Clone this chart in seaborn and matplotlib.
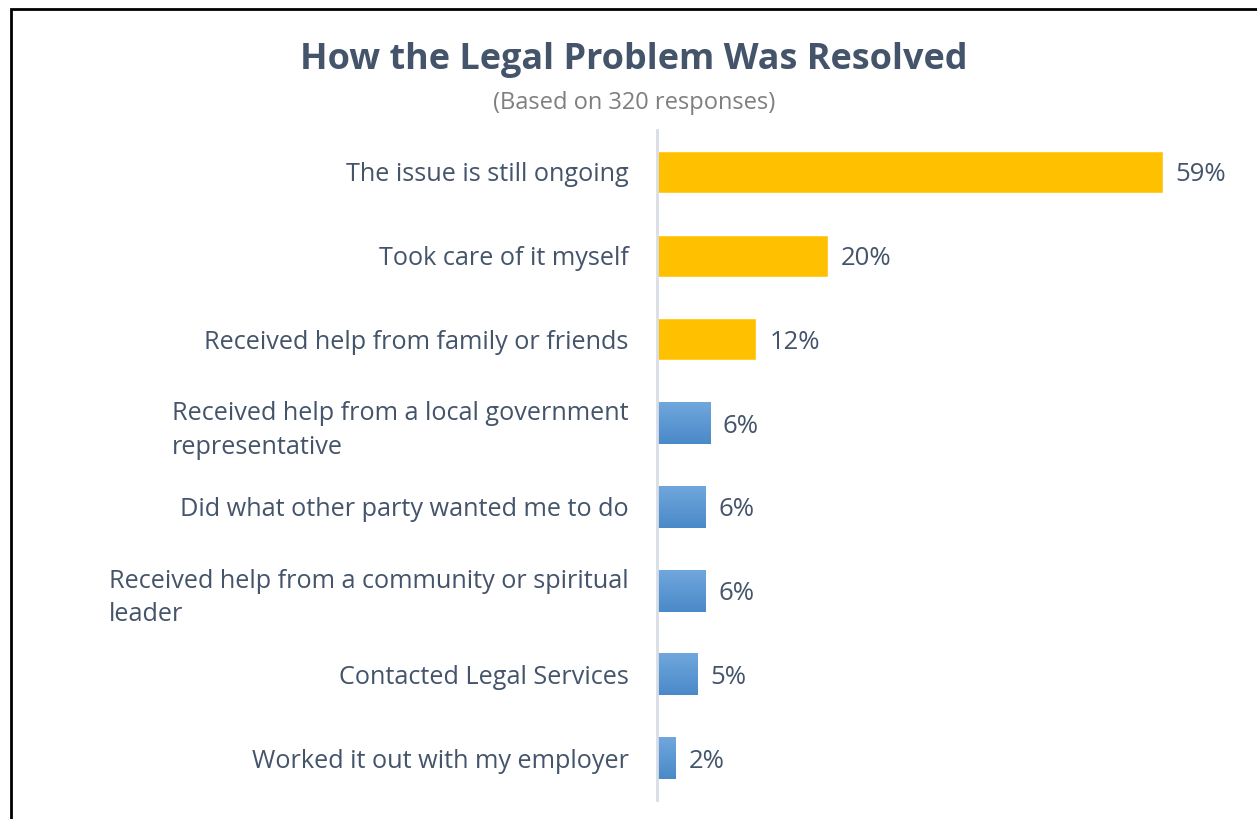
import numpy as np
import pandas as pd
import matplotlib
matplotlib.use("Agg")
import matplotlib.pyplot as plt
import seaborn as sns
from matplotlib.patches import Rectangle

categories = [
    "The issue is still ongoing",
    "Took care of it myself",
    "Received help from family or friends",
    "Received help from a local government\nrepresentative",
    "Did what other party wanted me to do",
    "Received help from a community or spiritual\nleader",
    "Contacted Legal Services",
    "Worked it out with my employer",
]
values = [59.0, 19.9, 11.6, 6.2, 5.7, 5.7, 4.7, 2.2]
labels = ["59%", "20%", "12%", "6%", "6%", "6%", "5%", "2%"]
groups = ["top", "top", "top", "other", "other", "other", "other", "other"]

title = "How the Legal Problem Was Resolved"
subtitle = "(Based on 320 responses)"

TEXT = "#44546A"
FONT = "Open Sans"

sns.set_theme(style="white")
plt.rcParams["font.family"] = [FONT, "DejaVu Sans"]

df = pd.DataFrame({"category": categories, "value": values, "group": groups})

fig = plt.figure(figsize=(12.57, 8.19), dpi=100)
ax = fig.add_axes([657 / 1257, 1 - 800 / 819, 1 - 657 / 1257, (800 - 130) / 819])

sns.barplot(data=df, y="category", x="value", hue="group",
            palette={"top": "#FFC000", "other": "#5B9BD5"},
            dodge=False, width=0.5, orient="h", legend=False, ax=ax,
            saturation=1)

# gradient for blue bars
grad = np.linspace(0, 1, 256).reshape(-1, 1)
cmap = matplotlib.colors.LinearSegmentedColormap.from_list("g", ["#70A7DD", "#4A89C8"])
for p in ax.patches:
    fc = p.get_facecolor()
    if fc[0] < 0.5:  # blue bar
        x0, y0 = p.get_x(), p.get_y()
        w, h = p.get_width(), p.get_height()
        im = ax.imshow(grad, extent=[x0, x0 + w, y0 + h, y0], aspect="auto",
                       cmap=cmap, origin="upper", zorder=p.get_zorder() + 0.1)
        im.set_clip_path(p)

ax.set_xlim(0, 70)
ax.set_ylim(7.5, -0.5)
ax.set_xlabel("")
ax.set_ylabel("")
ax.set_xticks([])
ax.tick_params(axis="y", length=0, pad=20.5, labelsize=18.2, labelcolor=TEXT)
for t in ax.get_yticklabels():
    t.set_multialignment("left")
    t.set_linespacing(1.45)

for s in ["top", "right", "bottom"]:
    ax.spines[s].set_visible(False)
ax.spines["left"].set_color("#D9DEE5")
ax.spines["left"].set_linewidth(2)

for i, (v, lab) in enumerate(zip(values, labels)):
    ax.text(v + 1.5, i, lab, va="center_baseline", ha="left", fontsize=18.5, color=TEXT)

fig.text(634 / 1257, 1 - 60 / 819, title, ha="center", va="center",
         fontsize=25.9, fontweight="bold", color=TEXT)
fig.text(634 / 1257, 1 - 103 / 819, subtitle, ha="center", va="center",
         fontsize=17, color="#7F7F7F")

# outer border (left and top visible)
fig.patches.append(Rectangle((11 / 1257, -0.1), 1.2, 1 - 9 / 819 + 0.1,
                             transform=fig.transFigure, fill=False,
                             edgecolor="black", linewidth=2))

fig.savefig("out.png", dpi=100)
